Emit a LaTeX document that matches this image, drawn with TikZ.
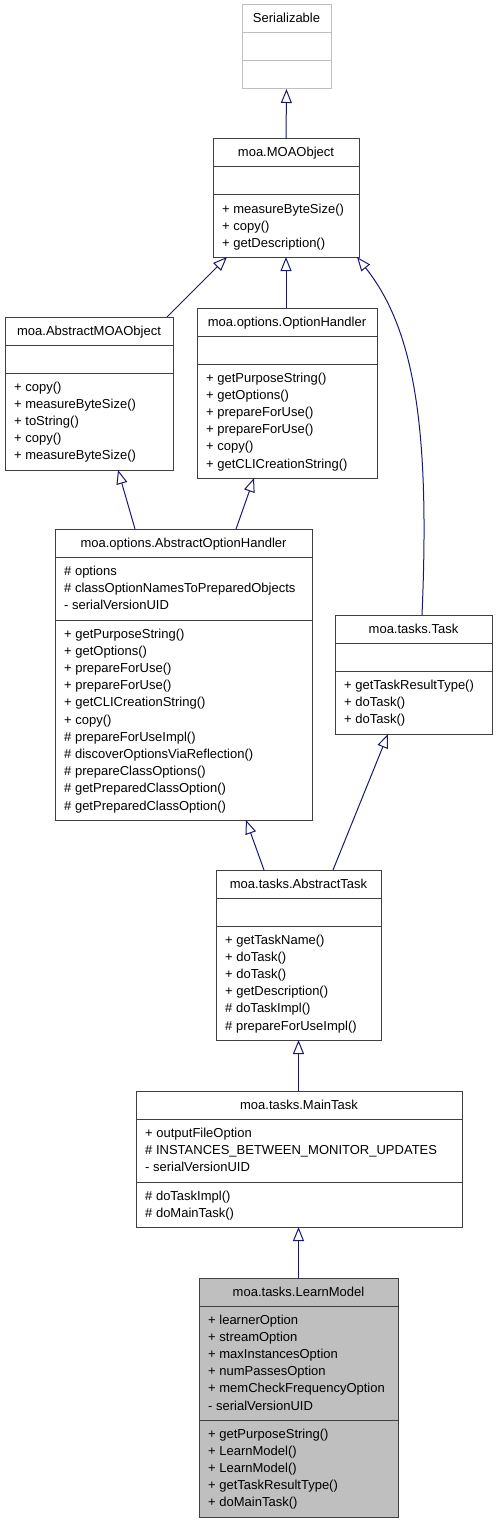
\documentclass[tikz,border=0pt]{standalone}
\usepackage{fontspec}
\setmainfont{Liberation Sans}
\usetikzlibrary{arrows.meta,calc}
\definecolor{edgeblue}{HTML}{191970}
\definecolor{boxline}{HTML}{404040}
\definecolor{grayfill}{HTML}{BFBFBF}
\definecolor{extline}{HTML}{BFBFBF}
\tikzset{
  cls/.style={draw=boxline, line width=1pt, fill=white, rectangle, anchor=north west, inner sep=0pt, outer sep=0pt},
  ttl/.style={font=\fontsize{13}{15}\selectfont, inner sep=0pt, anchor=base},
  mem/.style={font=\fontsize{13}{15}\selectfont, inner sep=0pt, anchor=base west},
  div/.style={draw=boxline, line width=1pt},
  inh/.style={draw=edgeblue, line width=1pt, -{Triangle[open, length=14pt, width=11pt]}},
}
\newcommand\umlclass[8]{%
  \node[cls, minimum width=#4pt, minimum height=#5pt] (#1) at (#2,#3) {};
  \node[ttl] (#1-t) at ({#2+#4/2},{#3+18}) {#6};
  \draw[div] ([yshift=-#7pt]#1.north west) -- ([yshift=-#7pt]#1.north east);
  \draw[div] ([yshift=-#8pt]#1.north west) -- ([yshift=-#8pt]#1.north east);
}
\newcommand\umlmembers[4]{%
  \foreach \t [count=\i] in {#4} {\node[mem] (#1\i) at ({#2},{#3+17.2*(\i-1)}) {\t};}
}
\begin{document}
\begin{tikzpicture}[x=1pt,y=-1pt]
\useasboundingbox (0,0) rectangle (496,1525);
% Serializable
\begin{scope}[div/.style={draw=extline, line width=1pt}, cls/.style={draw=extline, line width=1pt, fill=white, rectangle, anchor=north west, inner sep=0pt, outer sep=0pt}]
\umlclass{ser}{242}{5}{89}{84}{Serializable}{28}{56}
\end{scope}
% MOAObject
\umlclass{moa}{213}{139}{146}{118}{moa.MOAObject}{28}{56}
\umlmembers{moaM}{222}{213}{+ measureByteSize(),+ copy(),+ getDescription()}
% AbstractMOAObject
\umlclass{amo}{5}{317}{168}{153}{moa.AbstractMOAObject}{28}{56}
\umlmembers{amoM}{14}{391}{+ copy(),+ measureByteSize(),+ toString(),+ copy(),+ measureByteSize()}
% OptionHandler
\umlclass{oh}{197}{308}{180}{170}{moa.options.OptionHandler}{28}{56}
\umlmembers{ohM}{206}{382}{+ getPurposeString(),+ getOptions(),+ prepareForUse(),+ prepareForUse(),+ copy(),+ getCLICreationString()}
% AbstractOptionHandler
\umlclass{aoh}{55}{529}{257}{291}{moa.options.AbstractOptionHandler}{28}{91}
\umlmembers{aohA}{64}{575}{\# options,\# classOptionNamesToPreparedObjects,- serialVersionUID}
\umlmembers{aohM}{64}{638}{+ getPurposeString(),+ getOptions(),+ prepareForUse(),+ prepareForUse(),+ getCLICreationString(),+ copy(),\# prepareForUseImpl(),\# discoverOptionsViaReflection(),\# prepareClassOptions(),\# getPreparedClassOption(),\# getPreparedClassOption()}
% Task
\umlclass{task}{335}{615}{157}{119}{moa.tasks.Task}{28}{56}
\umlmembers{taskM}{344}{689}{+ getTaskResultType(),+ doTask(),+ doTask()}
% AbstractTask
\umlclass{at}{216}{870}{165}{170}{moa.tasks.AbstractTask}{28}{56}
\umlmembers{atM}{225}{944}{+ getTaskName(),+ doTask(),+ doTask(),+ getDescription(),\# doTaskImpl(),\# prepareForUseImpl()}
% MainTask
\umlclass{mt}{136}{1091}{326}{136}{moa.tasks.MainTask}{28}{91}
\umlmembers{mtA}{145}{1137}{+ outputFileOption,\# INSTANCES\_BETWEEN\_MONITOR\_UPDATES,- serialVersionUID}
\umlmembers{mtM}{145}{1200}{\# doTaskImpl(),\# doMainTask()}
% LearnModel
\begin{scope}[cls/.append style={fill=grayfill}]
\umlclass{lm}{199}{1278}{199}{239}{moa.tasks.LearnModel}{28}{142}
\end{scope}
\umlmembers{lmA}{208}{1324}{+ learnerOption,+ streamOption,+ maxInstancesOption,+ numPassesOption,+ memCheckFrequencyOption,- serialVersionUID}
\umlmembers{lmM}{208}{1438}{+ getPurposeString(),+ LearnModel(),+ LearnModel(),+ getTaskResultType(),+ doMainTask()}
% inheritance edges
\draw[inh] (moa.north) -- (ser.south);
\draw[inh] ([xshift=-6pt]amo.north east) -- ([xshift=14pt]moa.south west);
\draw[inh] (oh.north -| moa.south) -- (moa.south);
\draw[inh] ([xshift=87pt]task.north west) .. controls (430,430) and (415,330) .. ([xshift=-2pt]moa.south east);
\draw[inh] ([xshift=80pt]aoh.north west) -- ([xshift=-55pt]amo.south east);
\draw[inh] ([xshift=-76pt]aoh.north east) -- ([xshift=57pt]oh.south west);
\draw[inh] ([xshift=48pt]at.north west) -- ([xshift=-66pt]aoh.south east);
\draw[inh] ([xshift=-48pt]at.north east) -- ([xshift=53pt]task.south west);
\draw[inh] (mt.north -| at.south) -- (at.south);
\draw[inh] (lm.north) -- (lm.north |- mt.south);
\end{tikzpicture}
\end{document}
